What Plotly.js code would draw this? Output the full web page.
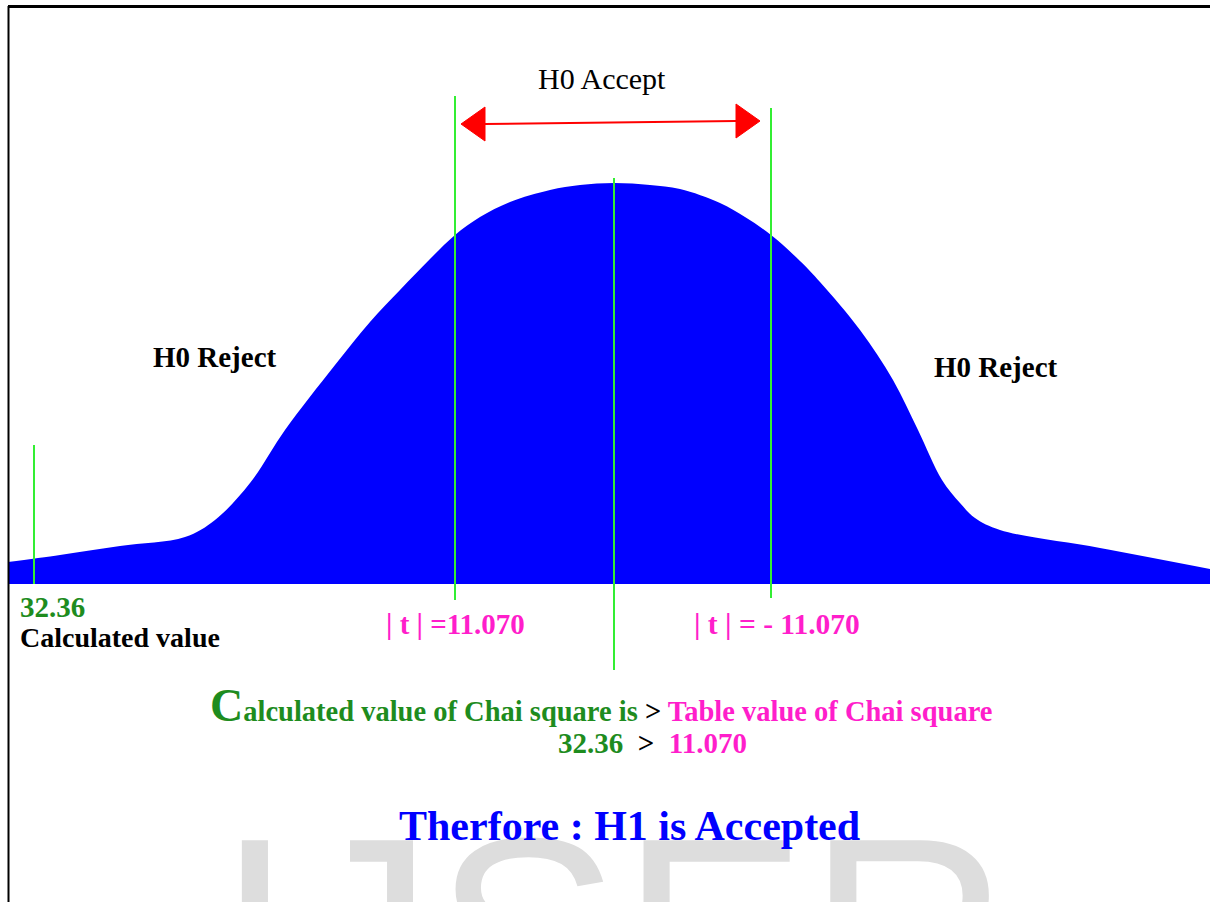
<!DOCTYPE html>
<html>
<head>
<meta charset="utf-8">
<script src="https://cdn.plot.ly/plotly-3.0.1.min.js"></script>
<style>html,body{margin:0;padding:0;background:#fff;}#chart{width:1210px;height:902px;}</style>
</head>
<body>
<div id="chart"></div>
<script>
// Schematic curve (horizontal position, height above baseline)
const curveX = [8, 60, 120, 185, 215, 250, 285, 335, 370, 400, 430, 455, 480, 510, 550, 580, 614, 650, 680, 720, 745, 771, 800, 820, 860, 893, 918, 942, 960, 975, 1000, 1100, 1210];
const curveY = [22, 29, 38, 47, 64, 101, 154, 219, 262, 294, 325, 349, 367, 382, 394, 399, 401, 399, 395, 381, 367, 349, 323, 302, 254, 204, 154, 104, 81, 66, 54, 36, 15];

// Green marker lines: calculated value, left critical, centre, right critical
const lineX = [34, 455, 614, 771];
const lineTop = [139, 488, 406, 476];
const lineBottom = [0, -16, -86, -14];

// Acceptance arrow
const arrowLeft = 461, arrowRight = 760, arrowLevel = 461, arrowHead = 24, arrowHalf = 17;

// Labels
const calcValue = "32.36";
const tableValue = "11.070";

const baseline = 584; // pixel row of y = 0
const py = p => baseline - p;

const traces = [];
traces.push({
  x: curveX, y: curveY, type: 'scatter', mode: 'lines',
  line: {color: '#0000ff', width: 0, shape: 'spline', smoothing: 1.0},
  fill: 'tozeroy', fillcolor: '#0000ff', hoverinfo: 'skip', showlegend: false
});
lineX.forEach((lx, i) => {
  traces.push({
    x: [lx, lx], y: [lineBottom[i], lineTop[i]], type: 'scatter', mode: 'lines',
    line: {color: '#33ee33', width: 2}, hoverinfo: 'skip', showlegend: false
  });
});
// arrow shaft
traces.push({
  x: [arrowLeft + arrowHead, arrowRight - arrowHead], y: [arrowLevel - 1, arrowLevel + 2],
  type: 'scatter', mode: 'lines', line: {color: '#ff0000', width: 2},
  hoverinfo: 'skip', showlegend: false
});
// arrow heads
traces.push({
  x: [arrowLeft, arrowLeft + arrowHead, arrowLeft + arrowHead, arrowLeft],
  y: [arrowLevel - 1, arrowLevel - 1 + arrowHalf, arrowLevel - 1 - arrowHalf, arrowLevel - 1],
  type: 'scatter', mode: 'lines', fill: 'toself', fillcolor: '#ff0000',
  line: {color: '#ff0000', width: 1}, hoverinfo: 'skip', showlegend: false
});
traces.push({
  x: [arrowRight, arrowRight - arrowHead, arrowRight - arrowHead, arrowRight],
  y: [arrowLevel + 2, arrowLevel + 2 + arrowHalf, arrowLevel + 2 - arrowHalf, arrowLevel + 2],
  type: 'scatter', mode: 'lines', fill: 'toself', fillcolor: '#ff0000',
  line: {color: '#ff0000', width: 1}, hoverinfo: 'skip', showlegend: false
});

const serif = 'Liberation Serif, Times New Roman, serif';
const green = '#1e8c1e', magenta = '#ff1ecb';
function ann(text, x, y, size, color, bold, xanchor) {
  return {
    text: bold ? '<b>' + text + '</b>' : text,
    x: x, y: py(y), xref: 'x', yref: 'y', showarrow: false,
    xanchor: xanchor || 'center', yanchor: 'middle',
    font: {family: serif, size: size, color: color}
  };
}

const annotations = [
  {text: 'IJSER', x: 214, y: py(778), xref: 'x', yref: 'y', showarrow: false,
   xanchor: 'left', yanchor: 'top',
   font: {family: 'Liberation Sans, Arial, sans-serif', size: 280, color: '#dddddd'}},
  ann('H0 Accept', 602, 78, 30, '#000', false),
  ann('H0 Reject', 215, 357, 29, '#000', true),
  ann('H0 Reject', 996, 367, 29, '#000', true),
  ann(calcValue, 18, 607, 29, green, true, 'left'),
  ann('Calculated value', 18, 637, 28, '#000', true, 'left'),
  ann('| t | =' + tableValue, 455, 624, 29, magenta, true),
  ann('| t | = - ' + tableValue, 777, 624, 29.5, magenta, true),
  ann('<span style="font-size:46px">C</span>alculated value of Chai square is ' +
      '<span style="color:#000">&gt;</span> <span style="color:' + magenta + '">Table value of Chai square</span>',
      601, 705, 28.5, green, true),
  ann(calcValue + '&nbsp; <span style="color:#000">&gt;</span>&nbsp; <span style="color:' + magenta + '">' + tableValue + '</span>',
      652, 743, 29, green, true),
  ann('Therfore : H1 is Accepted', 629, 826, 42, '#0000ff', true)
];

const layout = {
  width: 1210, height: 902,
  margin: {l: 0, r: 0, t: 0, b: 0, pad: 0},
  paper_bgcolor: '#ffffff', plot_bgcolor: '#ffffff',
  xaxis: {range: [0, 1210], visible: false, fixedrange: true},
  yaxis: {range: [py(902), py(0)], visible: false, fixedrange: true},
  showlegend: false,
  annotations: annotations,
  shapes: [
    {type: 'line', xref: 'paper', yref: 'paper', x0: 8 / 1210, x1: 1, y0: 1 - 6.5 / 902, y1: 1 - 6.5 / 902,
     line: {color: '#000', width: 3}},
    {type: 'line', xref: 'paper', yref: 'paper', x0: 8.5 / 1210, x1: 8.5 / 1210, y0: 0, y1: 1 - 6 / 902,
     line: {color: '#000', width: 2}}
  ]
};

Plotly.newPlot('chart', traces, layout, {staticPlot: true, displayModeBar: false});
</script>
</body>
</html>
